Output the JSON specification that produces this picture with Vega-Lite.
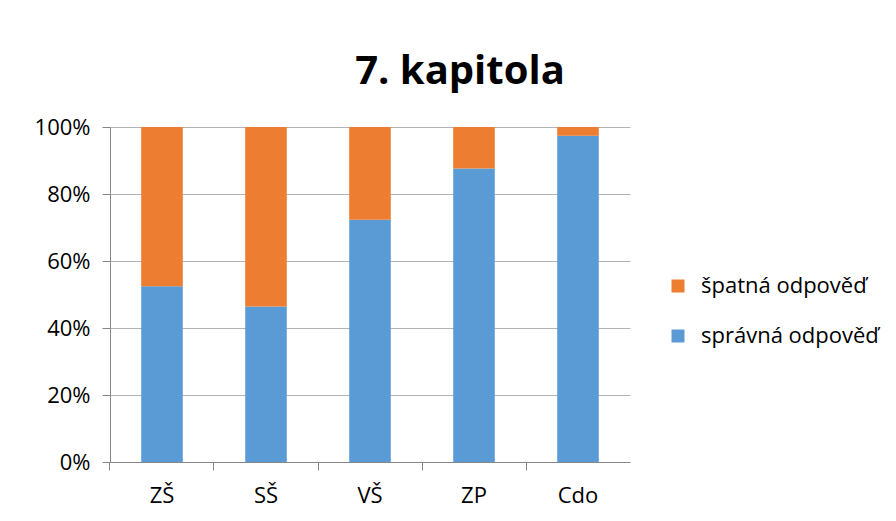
{
  "$schema": "https://vega.github.io/schema/vega-lite/v6.json",
  "width": 520,
  "height": 335,
  "autosize": {"type": "none"},
  "padding": {"left": 110, "top": 127, "right": 266, "bottom": 59},
  "background": "white",
  "title": {
    "text": "7. kapitola",
    "font": "Open Sans",
    "fontSize": 40,
    "fontWeight": "bold",
    "color": "#000000",
    "anchor": "middle",
    "dx": 90,
    "baseline": "alphabetic",
    "offset": -8
  },
  "data": {
    "values": [
      {"skupina": "ZŠ", "odpoved": "správná odpověď", "podil": 0.525, "poradi": 1},
      {"skupina": "ZŠ", "odpoved": "špatná odpověď", "podil": 0.475, "poradi": 2},
      {"skupina": "SŠ", "odpoved": "správná odpověď", "podil": 0.464, "poradi": 1},
      {"skupina": "SŠ", "odpoved": "špatná odpověď", "podil": 0.536, "poradi": 2},
      {"skupina": "VŠ", "odpoved": "správná odpověď", "podil": 0.723, "poradi": 1},
      {"skupina": "VŠ", "odpoved": "špatná odpověď", "podil": 0.277, "poradi": 2},
      {"skupina": "ZP", "odpoved": "správná odpověď", "podil": 0.876, "poradi": 1},
      {"skupina": "ZP", "odpoved": "špatná odpověď", "podil": 0.124, "poradi": 2},
      {"skupina": "Cdo", "odpoved": "správná odpověď", "podil": 0.974, "poradi": 1},
      {"skupina": "Cdo", "odpoved": "špatná odpověď", "podil": 0.026, "poradi": 2}
    ]
  },
  "mark": {"type": "bar"},
  "encoding": {
    "x": {
      "field": "skupina",
      "type": "nominal",
      "sort": ["ZŠ", "SŠ", "VŠ", "ZP", "Cdo"],
      "scale": {"paddingInner": 0.6, "paddingOuter": 0.3},
      "axis": {
        "title": null,
        "labelAngle": 0,
        "labelFont": "Open Sans",
        "labelFontSize": 22,
        "labelColor": "#000000",
        "labelPadding": 15,
        "domainColor": "#868686",
        "tickColor": "#868686",
        "tickSize": 8,
        "bandPosition": -0.75,
        "grid": false
      }
    },
    "y": {
      "field": "podil",
      "type": "quantitative",
      "stack": "normalize",
      "scale": {"domain": [0, 1]},
      "axis": {
        "title": null,
        "format": ".0%",
        "values": [0, 0.2, 0.4, 0.6, 0.8, 1],
        "labelFont": "Open Sans",
        "labelFontSize": 22,
        "labelColor": "#000000",
        "labelPadding": 12,
        "domainColor": "#868686",
        "tickColor": "#868686",
        "tickSize": 8,
        "grid": true,
        "gridColor": "#b3b3b3",
        "gridWidth": 1.2
      }
    },
    "color": {
      "field": "odpoved",
      "type": "nominal",
      "scale": {
        "domain": ["špatná odpověď", "správná odpověď"],
        "range": ["#ED7D31", "#5B9BD5"]
      },
      "legend": {
        "title": null,
        "orient": "none",
        "legendX": 557,
        "legendY": 148,
        "symbolType": "square",
        "symbolSize": 169,
        "symbolStrokeWidth": 0,
        "labelFont": "Open Sans",
        "labelFontSize": 22,
        "labelColor": "#000000",
        "labelOffset": 12,
        "labelLimit": 300,
        "rowPadding": 28
      }
    },
    "order": {"field": "poradi", "type": "quantitative"}
  },
  "config": {
    "view": {"stroke": null}
  }
}
